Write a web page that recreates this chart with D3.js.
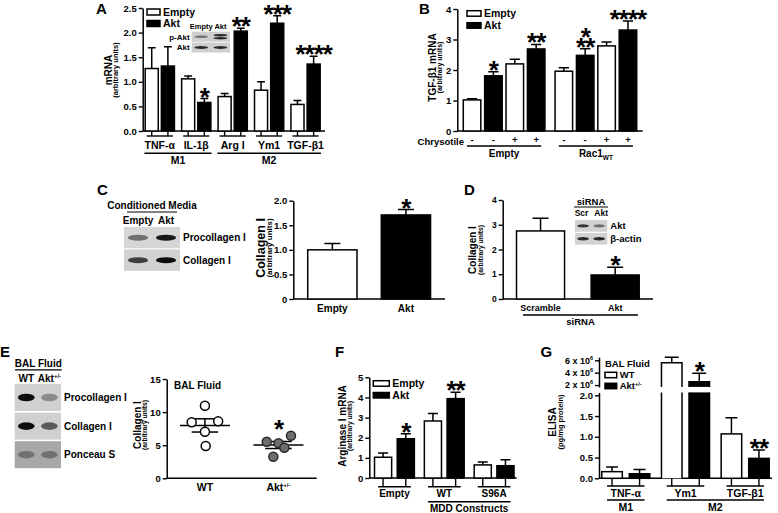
<!DOCTYPE html>
<html>
<head>
<meta charset="utf-8">
<script src="https://cdn.jsdelivr.net/npm/d3@7"></script>
<style>
  body { margin: 0; background: #fff; }
  svg { display: block; font-family: "Liberation Sans", Arial, Helvetica, sans-serif; font-weight: bold; }
</style>
</head>
<body>
<div id="main"></div>
<script>
// ---------- data ----------
// A: macrophage polarisation markers
const genesA = ["TNF-α", "IL-1β", "Arg I", "Ym1", "TGF-β1"];
const emptyA = [1.27, 1.06, 0.70, 0.83, 0.54];
const emptyErrA = [0.42, 0.06, 0.06, 0.17, 0.08];
const aktA = [1.32, 0.58, 2.03, 2.19, 1.36];
const aktErrA = [0.39, 0.08, 0.06, 0.15, 0.16];
const starsA = ["", "*", "**", "***", "****"];
const groupsA = [["M1", 0, 1], ["M2", 2, 4]];
const blotLanesA = ["Empty", "Akt"];
const blotA = [["p-Akt", [[0.45], [0.85, 0.85]]], ["Akt", [[0.85], [0.85]]]];

// B: TGF-b1 mRNA with chrysotile
const groupsB = ["Empty", "Rac1"];
const chrysotileB = ["-", "-", "+", "+"];
const seriesB = ["Empty", "Akt", "Empty", "Akt"];
const valuesB = [[1.02, 1.81, 2.20, 2.69], [1.96, 2.48, 2.79, 3.31]];
const errB = [[0.04, 0.13, 0.15, 0.15], [0.11, 0.22, 0.13, 0.30]];
const starsB = [["", "*", "", "**"], ["", "*\n**", "", "****"]];

// C: conditioned media
const catsC = ["Empty", "Akt"];
const valuesC = [1.0, 1.71];
const errC = [0.13, 0.11];
const starsC = ["", "*"];
const blotLanesC = ["Empty", "Akt"];
const blotC = [["Procollagen I", [[0.5], [0.95]]], ["Collagen I", [[0.75], [1.0]]]];

// D: siRNA
const catsD = ["Scramble", "Akt"];
const valuesD = [2.75, 0.97];
const errD = [0.51, 0.31];
const starsD = ["", "*"];
const blotLanesD = ["Scr", "Akt"];
const blotD = [["Akt", [[0.8], [0.5]]], ["β-actin", [[0.85], [0.85]]]];

// E: BAL fluid collagen
const catsE = ["WT", "Akt"];
const wtE = [10.97, 8.46, 8.6, 7.04, 4.88];
const aktE = [5.53, 5.29, 4.62, 6.44, 3.26];
const jitterWtE = [0, -0.18, 0.18, 0, 0.01];
const jitterAktE = [-0.16, 0, 0.08, 0.17, -0.07];
const blotLanesE = ["WT", "Akt"];
const blotE = [["Procollagen I", [[1.0], [0.35]]], ["Collagen I", [[1.0], [0.6]]], ["Ponceau S", [[0.35], [0.35]]]];

// F: Arginase I with MDD constructs
const constructsF = ["Empty", "WT", "S96A"];
const emptyF = [1.03, 2.83, 0.65];
const emptyErrF = [0.21, 0.37, 0.15];
const aktF = [1.95, 3.94, 0.61];
const aktErrF = [0.25, 0.32, 0.30];
const starsF = ["*", "**", ""];

// G: BAL ELISA
const cytokinesG = ["TNF-α", "Ym1", "TGF-β1"];
const wtG = [0.16, 5.61e6, 1.07];
const wtErrG = [0.11, 0.88e6, 0.39];
const aktG = [0.11, 2.53e6, 0.48];
const aktErrG = [0.10, 1.37e6, 0.20];
const starsG = ["", "*", "**"];
const groupsG = [["M1", 0, 0], ["M2", 1, 2]];

// ---------- helpers ----------
const STAR = 26;
const svg = d3.select("#main").append("svg").attr("width", 778).attr("height", 513);
svg.append("rect").attr("width", 778).attr("height", 513).attr("fill", "#fff");
const defs = svg.append("defs");
defs.append("filter").attr("id", "blur").append("feGaussianBlur").attr("stdDeviation", 0.7);

const txt = (x, y, s, fs, anchor) => svg.append("text")
  .attr("x", x).attr("y", y).attr("font-size", fs)
  .attr("text-anchor", anchor || "start").text(s);

const line = (x1, y1, x2, y2, w) => svg.append("line")
  .attr("x1", x1).attr("y1", y1).attr("x2", x2).attr("y2", y2)
  .attr("stroke", "#000").attr("stroke-width", w || 1.4);

const sup = (t, s, fs) => t.append("tspan").attr("font-size", fs).attr("dy", -fs * 0.6).text(s);

function leftAxis(y, x, ticks, fmt, fs) {
  const g = svg.append("g").attr("transform", `translate(${x},0)`)
    .call(d3.axisLeft(y).tickValues(ticks).tickFormat(fmt).tickSize(4).tickPadding(2).tickSizeOuter(0));
  g.attr("font-family", null).attr("font-size", fs).attr("font-weight", "bold");
  g.select(".domain").attr("stroke-width", 1.5);
  g.selectAll(".tick line").attr("stroke-width", 1.4);
  g.selectAll(".tick text").attr("fill", "#000");
  return g;
}

function yTitle(cx, cy, main, sub, fsMain, fsSub, gap) {
  const g = svg.append("g").attr("transform", `translate(${cx},${cy}) rotate(-90)`);
  g.append("text").attr("text-anchor", "middle").attr("font-size", fsMain).text(main);
  g.append("text").attr("text-anchor", "middle").attr("y", gap).attr("font-size", fsSub).text(sub);
}

// one text element per star label; stacked rows become tspans
function drawStars(cx, yTop, s) {
  if (!s) return;
  const rows = s.split("\n");
  const c = yTop - 7.5 - (rows.length - 1) * 10;
  const t = svg.append("text").attr("x", cx).attr("y", c + STAR * 0.56)
    .attr("font-size", STAR).attr("text-anchor", "middle").attr("letter-spacing", -1);
  rows.forEach((r, i) => t.append("tspan").attr("x", cx).attr("dy", i ? 10 : 0).text(r));
}

function barSet(items, y) {
  const base = y(0);
  const g = svg.append("g");
  g.selectAll("rect").data(items).join("rect")
    .attr("x", d => d.x + 0.75).attr("width", d => d.w - 1.5)
    .attr("y", d => y(d.v)).attr("height", d => base - y(d.v))
    .attr("fill", d => d.fill).attr("stroke", "#000").attr("stroke-width", 1.5);
  g.selectAll("path").data(items).join("path")
    .attr("d", d => {
      const cx = d.x + d.w / 2, t = y(d.v + d.e), h = Math.min(d.w * 0.27, 8);
      return `M${cx},${y(d.v)}V${t}M${cx - h},${t}H${cx + h}`;
    })
    .attr("stroke", "#000").attr("stroke-width", 1.5).attr("fill", "none");
  items.forEach(d => drawStars(d.x + d.w / 2, y(d.v + d.e), d.star));
}

function legend(x, y, w, h, gap, labels, fills, fs) {
  labels.forEach((l, i) => {
    const yy = y + i * gap;
    svg.append("rect").attr("x", x).attr("y", yy).attr("width", w).attr("height", h)
      .attr("fill", fills[i]).attr("stroke", "#000").attr("stroke-width", 1.5);
    txt(x + w + 3, yy + h / 2 + fs * 0.36, l, fs);
  });
}

function blot(x, y, w, rowH, gapH, rows, bgs, fs, labelsLeft) {
  const lane = d3.scalePoint().domain([0, 1]).range([x, x + w]).padding(0.5);
  rows.forEach(([label, lanes], i) => {
    const ry = y + i * (rowH + gapH);
    svg.append("rect").attr("x", x).attr("y", ry).attr("width", w).attr("height", rowH)
      .attr("fill", bgs[i]);
    lanes.forEach((bands, j) => {
      bands.forEach((v, k) => {
        const off = bands.length > 1 ? (k - 0.5) * rowH * 0.3 : 0;
        svg.append("ellipse").attr("cx", lane(j)).attr("cy", ry + rowH / 2 + off)
          .attr("rx", lane.step() * 0.36).attr("ry", Math.max(1.2, rowH * (bands.length > 1 ? 0.1 : 0.14)))
          .attr("fill", "#111").attr("opacity", v).attr("filter", "url(#blur)");
      });
    });
    if (labelsLeft) txt(x - 2, ry + rowH / 2 + fs * 0.36, label, fs, "end");
    else txt(x + w + 3, ry + rowH / 2 + fs * 0.36, label, fs);
  });
  return lane;
}

function underTicks(c1, c2, axisY, lineY, label, labelY, fs) {
  line(c1, axisY, c1, lineY); line(c2, axisY, c2, lineY);
  line(c1 - 5, lineY, c2 + 5, lineY);
  return txt((c1 + c2) / 2, labelY, label, fs, "middle");
}

const fmt1 = d3.format(".1f");

// ---------- panel A ----------
txt(96, 14, "A", 15);
const yA = d3.scaleLinear().domain([0, 2.5]).range([131, 8]);
const xA = d3.scaleBand().domain(genesA).range([142.7, 325]).paddingInner(0.157).paddingOuter(0.08).align(0.3);
const sA = d3.scaleBand().domain(["Empty", "Akt"]).range([0, xA.bandwidth()]).paddingInner(0.1);
leftAxis(yA, 142.7, [0, 0.5, 1, 1.5, 2, 2.5], fmt1, 9.5);
line(142.7, yA(0), 325, yA(0), 1.5);
barSet(genesA.flatMap((g, i) => [
  {x: xA(g) + sA("Empty"), w: sA.bandwidth(), v: emptyA[i], e: emptyErrA[i], fill: "#fff", star: ""},
  {x: xA(g) + sA("Akt"), w: sA.bandwidth(), v: aktA[i], e: aktErrA[i], fill: "#000", star: starsA[i]}
]), yA);
genesA.forEach(g => {
  const c1 = xA(g) + sA("Empty") + sA.bandwidth() / 2, c2 = xA(g) + sA("Akt") + sA.bandwidth() / 2;
  underTicks(c1, c2, yA(0), 136, g, 148.5, 10.5);
});
groupsA.forEach(([name, a, b]) => {
  const l = xA(genesA[a]), r = xA(genesA[b]) + xA.bandwidth();
  line(l, 153.3, r, 153.3);
  txt((l + r) / 2, 163.5, name, 10.5, "middle");
});
yTitle(111.5, 70, "mRNA", "(arbitrary units)", 10, 7.5, 6.5);
legend(147, 9, 13, 6, 11.5, ["Empty", "Akt"], ["#fff", "#000"], 10.5);
{
  const lane = blot(191.7, 31.7, 38.3, 10, 0.8, blotA, ["#cfcfcf", "#cfcfcf"], 8, true);
  blotLanesA.forEach((l, i) => txt(lane(i), 28.5, l, 7.5, "middle"));
}

// ---------- panel B ----------
txt(419, 14, "B", 15);
const yB = d3.scaleLinear().domain([0, 4]).range([131, 9]);
const xB = d3.scaleBand().domain(groupsB).range([457.3, 642.7]).paddingInner(0.094).paddingOuter(0.057);
const sB = d3.scaleBand().domain(chrysotileB.map((_, i) => i)).range([0, xB.bandwidth()]).paddingInner(0.11);
leftAxis(yB, 457.3, [0, 1, 2, 3, 4], d3.format("d"), 9.5);
line(457.3, yB(0), 642.7, yB(0), 1.5);
barSet(groupsB.flatMap((g, gi) => chrysotileB.map((c, i) => ({
  x: xB(g) + sB(i), w: sB.bandwidth(), v: valuesB[gi][i], e: errB[gi][i],
  fill: seriesB[i] === "Akt" ? "#000" : "#fff", star: starsB[gi][i]
}))), yB);
txt(464, 145, "Chrysotile", 9.5, "end");
groupsB.forEach(g => {
  chrysotileB.forEach((c, i) => txt(xB(g) + sB(i) + sB.bandwidth() / 2, 143, c, 9.5, "middle"));
  const l = xB(g) + sB(0) + sB.bandwidth() / 2 - 5, r = xB(g) + sB(3) + sB.bandwidth() / 2 + 5;
  line(l, 146, r, 146);
  const t = txt((l + r) / 2, 157, g, 10, "middle");
  if (g === "Rac1") t.append("tspan").attr("font-size", 6.5).attr("dy", 2.5).text("WT");
});
yTitle(435.5, 67.5, "TGF-β1 mRNA", "(arbitrary units)", 10, 7, 6);
legend(467, 10.7, 14, 5.5, 12, ["Empty", "Akt"], ["#fff", "#000"], 10.5);

// ---------- panel C ----------
txt(97, 195, "C", 15);
{
  const lane = blot(124, 227, 56, 21.3, 1.2, blotC, ["#d6d6d6", "#d2d2d2"], 10);
  txt(152, 209, "Conditioned Media", 10, "middle");
  line(127, 212, 177, 212, 1.2);
  blotLanesC.forEach((l, i) => txt(lane(i), 223.5, l, 10, "middle"));
}
const yC = d3.scaleLinear().domain([0, 2]).range([299, 200.7]);
const xC = d3.scaleBand().domain(catsC).range([293.3, 445]).paddingInner(0.31).paddingOuter(0.186);
leftAxis(yC, 293.3, [0, 0.5, 1, 1.5, 2], d => d === 0 ? "0" : fmt1(d), 9.5);
line(293.3, yC(0), 445, yC(0), 1.5);
barSet(catsC.map((c, i) => ({x: xC(c), w: xC.bandwidth(), v: valuesC[i], e: errC[i],
  fill: i ? "#000" : "#fff", star: starsC[i]})), yC);
catsC.forEach(c => txt(xC(c) + xC.bandwidth() / 2, 311.5, c, 10, "middle"));
yTitle(265, 248, "Collagen I", "(arbitrary units)", 12.5, 8, 6.5);

// ---------- panel D ----------
txt(464, 195, "D", 15);
const yD = d3.scaleLinear().domain([0, 4]).range([299, 200]);
const xD = d3.scaleBand().domain(catsD).range([502.7, 653]).paddingInner(0.336).paddingOuter(0.175);
leftAxis(yD, 502.7, [0, 1, 2, 3, 4], d3.format("d"), 8.5);
line(502.7, yD(0), 653, yD(0), 1.5);
barSet(catsD.map((c, i) => ({x: xD(c), w: xD.bandwidth(), v: valuesD[i], e: errD[i],
  fill: i ? "#000" : "#fff", star: starsD[i]})), yD);
catsD.forEach(c => txt(xD(c) + xD.bandwidth() / 2, 310.5, c, 9, "middle"));
line(523, 315, 638, 315, 1.4);
txt(580.5, 325, "siRNA", 9.5, "middle");
yTitle(476, 250, "Collagen I", "(arbitrary units)", 10, 6.8, 6.5);
{
  const lane = blot(575, 220, 32.3, 11.7, 1.2, blotD, ["#d2d2d2", "#d2d2d2"], 9.5);
  txt(591, 204.5, "siRNA", 9.5, "middle");
  line(574, 207, 608, 207, 1.2);
  txt(lane(0) - 1.5, 215.5, blotLanesD[0], 8.5, "middle");
  txt(lane(1) + 2, 215.5, blotLanesD[1], 8.5, "middle");
}

// ---------- panel E ----------
txt(0, 356.5, "E", 15);
{
  const lane = blot(14.7, 384, 46.3, 27, 1.6, blotE, ["#d0d0d0", "#d0d0d0", "#a8a8a8"], 10);
  txt(38.3, 367, "BAL Fluid", 10, "middle");
  line(15, 369.8, 61.7, 369.8, 1.2);
  blotLanesE.forEach((l, i) => {
    const t = txt(lane(i), 381.5, l, 10, "middle");
    if (i) sup(t, "+/-", 6);
  });
}
const yE = d3.scaleLinear().domain([0, 15]).range([478.3, 379]);
const xE = d3.scalePoint().domain(catsE).range([166.7, 316.7]).padding(0.52);
leftAxis(yE, 166.7, [0, 5, 10, 15], d3.format("d"), 9.5);
line(166.7, yE(0), 316.7, yE(0), 1.5);
[[wtE, jitterWtE, "#fff"], [aktE, jitterAktE, "#6e6e6e"]].forEach(([vals, jit, fill], gi) => {
  const cx = xE(catsE[gi]), st = xE.step();
  const m = d3.mean(vals), sem = d3.deviation(vals) / Math.sqrt(vals.length);
  line(cx - 0.34 * st, yE(m), cx + 0.34 * st, yE(m), 1.5);
  line(cx, yE(m - sem), cx, yE(m + sem), 1.5);
  line(cx - 0.18 * st, yE(m + sem), cx + 0.18 * st, yE(m + sem), 1.5);
  line(cx - 0.18 * st, yE(m - sem), cx + 0.18 * st, yE(m - sem), 1.5);
  svg.append("g").selectAll("circle").data(vals).join("circle")
    .attr("cx", (d, i) => cx + jit[i] * st).attr("cy", d => yE(d)).attr("r", 4.5)
    .attr("fill", fill).attr("stroke", gi ? "#2a2a2a" : "#000").attr("stroke-width", 1.5);
});
drawStars(xE("Akt"), yE(d3.max(aktE)) - 5, "*");
catsE.forEach((c, i) => {
  const t = txt(xE(c), 490.5, c, 10.5, "middle");
  if (i) sup(t, "+/-", 6);
});
txt(174, 389, "BAL Fluid", 10);
yTitle(140.5, 425, "Collagen I", "(arbitrary units)", 10, 6.8, 6);

// ---------- panel F ----------
txt(335, 357, "F", 15);
const yF = d3.scaleLinear().domain([0, 5]).range([478, 377.3]);
const xF = d3.scaleBand().domain(constructsF).range([369.3, 516.7]).paddingInner(0.17).paddingOuter(0.064).align(0.7);
const sF = d3.scaleBand().domain(["Empty", "Akt"]).range([0, xF.bandwidth()]).paddingInner(0.18);
leftAxis(yF, 369.3, [0, 1, 2, 3, 4, 5], d3.format("d"), 9.5);
line(369.3, yF(0), 516.7, yF(0), 1.5);
barSet(constructsF.flatMap((c, i) => [
  {x: xF(c) + sF("Empty"), w: sF.bandwidth(), v: emptyF[i], e: emptyErrF[i], fill: "#fff", star: ""},
  {x: xF(c) + sF("Akt"), w: sF.bandwidth(), v: aktF[i], e: aktErrF[i], fill: "#000", star: starsF[i]}
]), yF);
constructsF.forEach(c => {
  const c1 = xF(c) + sF("Empty") + sF.bandwidth() / 2, c2 = xF(c) + sF("Akt") + sF.bandwidth() / 2;
  underTicks(c1, c2, yF(0), 486.7, c, 496.5, 10);
});
{
  const l = xF("WT") + sF("Empty") + sF.bandwidth() / 2 - 5;
  const r = xF("S96A") + sF("Akt") + sF.bandwidth() / 2 + 5;
  line(l, 501.7, r, 501.7);
  txt((l + r) / 2, 511.5, "MDD Constructs", 10, "middle");
}
yTitle(346, 426, "Arginase I mRNA", "(arbitrary units)", 10, 6.8, 5.5);
legend(373.3, 380.7, 16, 5.5, 11.8, ["Empty", "Akt"], ["#fff", "#000"], 10.5);

// ---------- panel G ----------
txt(540.5, 357, "G", 15);
const yGlo = d3.scaleLinear().domain([0, 2.07]).range([478.3, 392.4]);
const yGhi = d3.scaleLinear().domain([1.7e6, 6.5e6]).range([386.9, 357.2]);
const xG = d3.scaleBand().domain(cytokinesG).range([599, 772]).paddingInner(0.17).paddingOuter(0.034);
const sG = d3.scaleBand().domain(["WT", "Akt"]).range([0, xG.bandwidth()]).paddingInner(0.2);
leftAxis(yGlo, 599, [0, 0.5, 1, 1.5, 2], fmt1, 9.5);
leftAxis(yGhi, 599, [2e6, 4e6, 6e6], d => d / 1e6 + " x 10", 9)
  .selectAll(".tick text").append("tspan").attr("font-size", 5.5).attr("dy", -4).text("6");
line(599, yGlo(0), 772, yGlo(0), 1.5);
{
  const items = cytokinesG.flatMap((c, i) => [
    {x: xG(c) + sG("WT"), w: sG.bandwidth(), v: wtG[i], e: wtErrG[i], fill: "#fff", star: ""},
    {x: xG(c) + sG("Akt"), w: sG.bandwidth(), v: aktG[i], e: aktErrG[i], fill: "#000", star: starsG[i]}
  ]);
  const topLo = yGlo.domain()[1];
  barSet(items.filter(d => d.v <= topLo), yGlo);
  // broken bars (Ym1) span both axis segments
  items.filter(d => d.v > topLo).forEach(d => {
    const l = d.x + 0.75, r = d.x + d.w - 0.75, base = yGlo(0), cut = yGlo.range()[1];
    const hiBase = yGhi.range()[0], top = yGhi(d.v), cx = d.x + d.w / 2, et = yGhi(d.v + d.e);
    svg.append("rect").attr("x", l).attr("y", cut).attr("width", r - l).attr("height", base - cut).attr("fill", d.fill);
    svg.append("rect").attr("x", l).attr("y", top).attr("width", r - l).attr("height", hiBase - top).attr("fill", d.fill);
    svg.append("path").attr("fill", "none").attr("stroke", "#000").attr("stroke-width", 1.5)
      .attr("d", `M${l},${base}V${cut}M${r},${base}V${cut}M${l},${hiBase}V${top}H${r}V${hiBase}` +
        `M${cx},${top}V${et}M${cx - 7},${et}H${cx + 7}`);
    drawStars(cx, et, d.star);
  });
}
cytokinesG.forEach(c => {
  const c1 = xG(c) + sG("WT") + sG.bandwidth() / 2, c2 = xG(c) + sG("Akt") + sG.bandwidth() / 2;
  underTicks(c1, c2, yGlo(0), 486, c, 497, 10.5);
});
groupsG.forEach(([name, a, b]) => {
  const l = xG(cytokinesG[a]) + sG("WT") + sG.bandwidth() / 2 - 5;
  const r = xG(cytokinesG[b]) + sG("Akt") + sG.bandwidth() / 2 + 5;
  line(l, 500, r, 500);
  txt((l + r) / 2, 511, name, 10.5, "middle");
});
yTitle(556, 422, "ELISA", "(pg/mg protein)", 10, 7.5, 7);
txt(605, 366.5, "BAL Fluid", 9.5);
legend(605, 372.3, 11.7, 5.4, 11, ["WT", "Akt"], ["#fff", "#000"], 9.5);
sup(svg.selectAll("text").filter(function() { return this.textContent === "Akt" && +this.getAttribute("x") > 615 && +this.getAttribute("y") > 385; }), "+/-", 5.5);
</script>
</body>
</html>
